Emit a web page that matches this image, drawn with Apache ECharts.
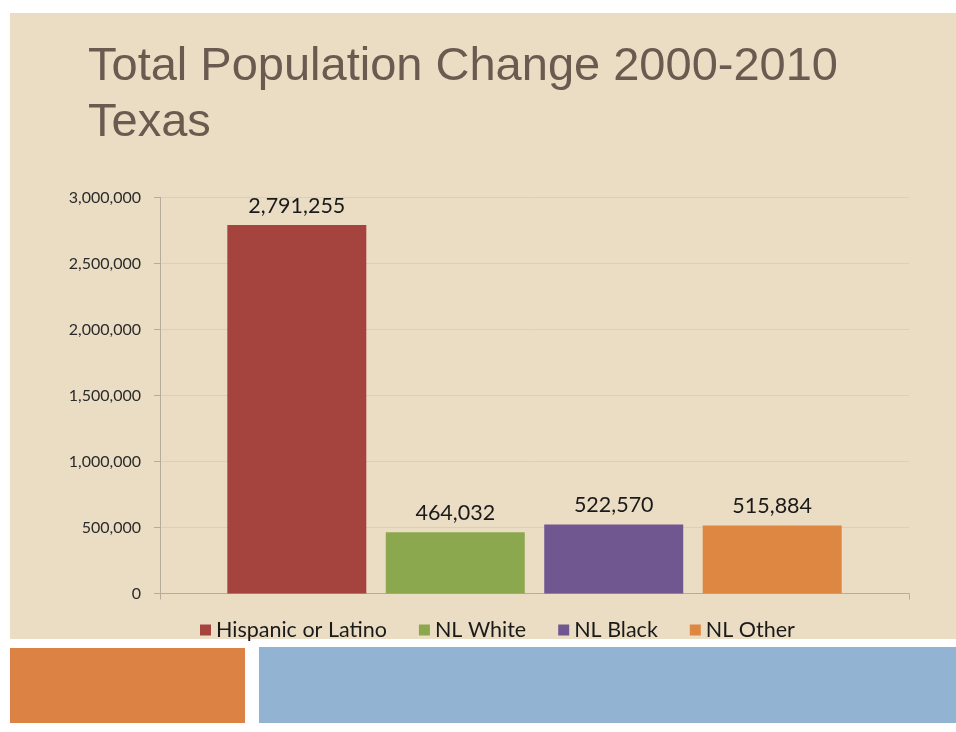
<!DOCTYPE html>
<html>
<head>
<meta charset="utf-8">
<title>Total Population Change 2000-2010 Texas</title>
<script src="https://cdn.jsdelivr.net/npm/echarts@6/dist/echarts.min.js"></script>
<style>
  html, body { margin: 0; padding: 0; background: #ffffff; }
  #chart { width: 956px; height: 732px; }
</style>
</head>
<body>
<div id="chart"></div>
<script>
// Population change by group, Texas, 2000 to 2010
const groups = ['Hispanic or Latino', 'NL White', 'NL Black', 'NL Other'];
const changes = [2791255, 464032, 522570, 515884];
const groupColors = ['#A5443F', '#8CA84F', '#71578F', '#DE8742'];
const yTicks = { min: 0, max: 3000000, step: 500000 };

const fmt = v => Number(v).toLocaleString('en-US');

const chart = echarts.init(document.getElementById('chart'), null, { renderer: 'canvas' });

const series = groups.map((name, i) => ({
  name,
  type: 'bar',
  data: [changes[i]],
  barWidth: 139,
  barGap: '14%',
  itemStyle: { color: groupColors[i] },
  label: {
    show: true,
    position: 'top',
    distance: 8,
    formatter: p => fmt(p.value),
    fontFamily: 'Lato',
    fontSize: 21.5,
    color: '#1a1a1a'
  }
}));

chart.setOption({
  backgroundColor: '#ffffff',
  animation: false,
  graphic: [
    // slide panel and footer blocks
    { type: 'rect', z: -10, shape: { x: 10, y: 13, width: 946, height: 626 }, style: { fill: '#EBDDC4' } },
    { type: 'rect', z: -10, shape: { x: 10, y: 648, width: 235, height: 75 }, style: { fill: '#DC8244' } },
    { type: 'rect', z: -10, shape: { x: 259, y: 647, width: 697, height: 76 }, style: { fill: '#93B3D2' } }
  ],
  title: {
    text: 'Total Population Change 2000-2010\nTexas',
    left: 83,
    top: 34,
    textStyle: {
      fontFamily: 'Liberation Sans',
      fontSize: 47,
      fontWeight: 'normal',
      lineHeight: 56,
      color: '#6B5A4F'
    }
  },
  legend: {
    data: groups,
    left: 195,
    top: 614,
    icon: 'rect',
    itemWidth: 11,
    itemHeight: 11,
    itemGap: 32,
    textStyle: { fontFamily: 'Lato', fontSize: 21.5, color: '#1a1a1a' }
  },
  grid: { left: 160, right: 47, top: 197.5, bottom: 138.5, containLabel: false },
  xAxis: {
    type: 'category',
    data: [''],
    axisLine: { show: true, lineStyle: { color: '#B5AC9C', width: 1 } },
    axisTick: { show: true, length: 6, lineStyle: { color: '#B5AC9C' } },
    axisLabel: { show: false },
    splitLine: { show: false }
  },
  yAxis: {
    type: 'value',
    min: yTicks.min,
    max: yTicks.max,
    interval: yTicks.step,
    axisLine: { show: true, lineStyle: { color: '#B5AC9C', width: 1 } },
    axisTick: { show: true, length: 6, lineStyle: { color: '#B5AC9C' } },
    axisLabel: {
      margin: 19,
      formatter: v => fmt(v),
      fontFamily: 'Lato',
      fontSize: 16,
      color: '#2b2b2b'
    },
    splitLine: { show: true, lineStyle: { color: '#DCCFB5', width: 1 } }
  },
  series
});
</script>
</body>
</html>
